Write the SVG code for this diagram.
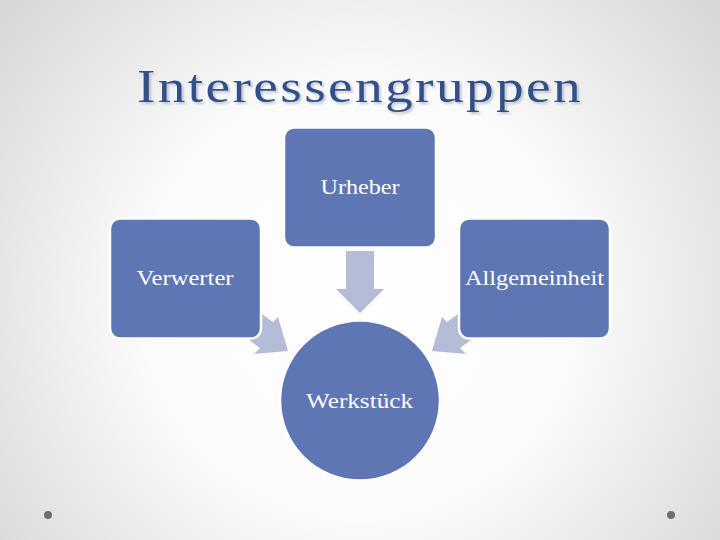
<svg xmlns="http://www.w3.org/2000/svg" width="720" height="540" viewBox="0 0 720 540">
<defs>
<radialGradient id="bg" cx="360" cy="300" r="480" gradientUnits="userSpaceOnUse">
<stop offset="0" stop-color="#ffffff"/>
<stop offset="0.45" stop-color="#fbfbfb"/>
<stop offset="1" stop-color="#d4d4d4"/>
</radialGradient>
<filter id="sh" x="-5%" y="-20%" width="110%" height="150%">
<feDropShadow dx="2" dy="2" stdDeviation="0.8" flood-color="#9aa3b5" flood-opacity="0.6"/>
</filter>
<style>
.box{fill:#5f76b4;stroke:#ffffff;stroke-width:2.5}
.arr{fill:#b4bcd8}
.lbl{font-family:"Liberation Serif","DejaVu Serif",serif;font-size:21px;fill:#ffffff;text-anchor:middle}
.title{font-family:"Liberation Serif","DejaVu Serif",serif;font-size:47px;fill:#30508a}
.dot{fill:#6e6e6e}
</style>
</defs>
<rect x="0" y="0" width="720" height="540" fill="url(#bg)"/>
<g id="title">
<text class="title" x="137" y="102" filter="url(#sh)" textLength="446" lengthAdjust="spacingAndGlyphs" letter-spacing="2">Interessengruppen</text>
</g>
<g id="connectors">
<polygon class="arr" points="346,251 374,251 374,289 384,289 360,313 336,289 346,289"/>
<polygon class="arr" points="251,306 273,322 278,317 288,351 254,354 260,348 238,332"/>
<polygon class="arr" points="469,306 447,322 442,317 432,351 466,354 460,348 482,332"/>
</g>
<g id="urheber">
<rect class="box" x="284" y="127.5" width="152" height="120" rx="10"/>
<text class="lbl" x="360" y="193.5" textLength="79" lengthAdjust="spacingAndGlyphs">Urheber</text>
</g>
<g id="verwerter">
<rect class="box" x="110" y="218.5" width="151" height="120" rx="10"/>
<text class="lbl" x="185" y="284.5" textLength="97" lengthAdjust="spacingAndGlyphs">Verwerter</text>
</g>
<g id="allgemeinheit">
<rect class="box" x="459" y="218.5" width="151" height="120" rx="10"/>
<text class="lbl" x="534.5" y="284.5" textLength="139" lengthAdjust="spacingAndGlyphs">Allgemeinheit</text>
</g>
<g id="werkstueck">
<circle class="box" cx="360" cy="400.5" r="80"/>
<text class="lbl" x="359.5" y="407.5" textLength="107" lengthAdjust="spacingAndGlyphs">Werkstück</text>
</g>
<circle class="dot" cx="48" cy="515" r="4"/>
<circle class="dot" cx="671" cy="515" r="4"/>
</svg>
